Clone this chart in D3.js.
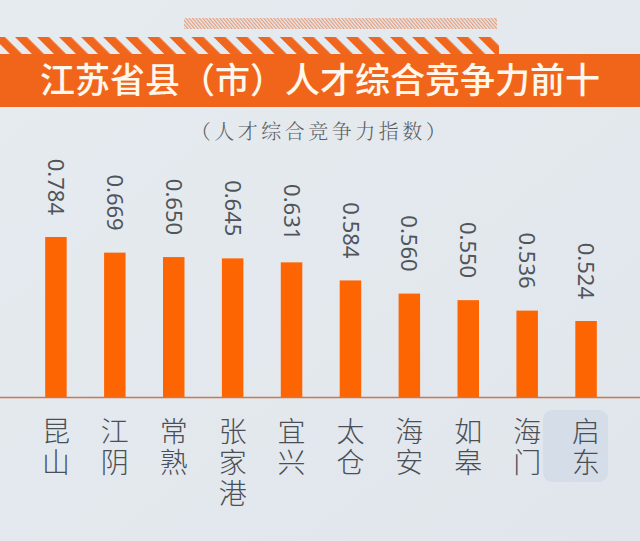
<!DOCTYPE html>
<html><head><meta charset="utf-8">
<script src="https://cdn.jsdelivr.net/npm/d3@7"></script>
<style>
html,body{margin:0;padding:0;background:#e4e9ee;}
svg{display:block;}
</style></head>
<body>
<script>
const titleText = "江苏省县（市）人才综合竞争力前十";
const subtitleText = "（人才综合竞争力指数）";
const categories = ["昆山","江阴","常熟","张家港","宜兴","太仓","海安","如皋","海门","启东"];
const values = [0.784,0.669,0.650,0.645,0.631,0.584,0.560,0.550,0.536,0.524];
const valueLabels = ["0.784","0.669","0.650","0.645","0.631","0.584","0.560","0.550","0.536","0.524"];

const W = 640, H = 541;
const baseY = 397;
const svg = d3.select("body").append("svg").attr("width", W).attr("height", H);

const defs = svg.append("defs");
const bg = defs.append("linearGradient").attr("id","bg").attr("x1",0).attr("y1",0).attr("x2",1).attr("y2",1);
bg.append("stop").attr("offset","0%").attr("stop-color","#e6ebf0");
bg.append("stop").attr("offset","100%").attr("stop-color","#e1e6ec");
svg.append("rect").attr("width",W).attr("height",H).attr("fill","url(#bg)");

// stripe patterns
const sp = defs.append("pattern").attr("id","stripes").attr("patternUnits","userSpaceOnUse")
  .attr("width",15.6).attr("height",15.6).attr("patternTransform","rotate(-45)");
sp.append("rect").attr("x",0).attr("y",0).attr("width",8.5).attr("height",15.6).attr("fill","#f0661c");
const hp = defs.append("pattern").attr("id","hatch").attr("patternUnits","userSpaceOnUse")
  .attr("width",2.6).attr("height",2.6).attr("patternTransform","rotate(-40)");
hp.append("rect").attr("x",0).attr("y",0).attr("width",1.2).attr("height",2.6).attr("fill","#e79b78");

svg.append("rect").attr("x",184).attr("y",18).attr("width",313).attr("height",11).attr("fill","url(#hatch)");
svg.append("rect").attr("x",0).attr("y",37).attr("width",499).attr("height",17).attr("fill","url(#stripes)");
svg.append("rect").attr("x",0).attr("y",54).attr("width",W).attr("height",53).attr("fill","#f1651b");

svg.append("text").attr("x",320).attr("y",93).attr("text-anchor","middle")
  .attr("font-family","'Noto Sans CJK SC', sans-serif").attr("font-weight",500)
  .attr("font-size",35).attr("fill","#fff7ec").text(titleText);

svg.append("text").attr("x",320).attr("y",139).attr("text-anchor","middle")
  .attr("font-family","'Noto Serif CJK SC', 'Noto Sans CJK SC', serif").attr("font-weight",300)
  .attr("font-size",20).attr("letter-spacing",3.5).attr("fill","#5a5e63").text(subtitleText);

// watermark badge behind last label
svg.append("rect").attr("x",543).attr("y",410).attr("width",65).attr("height",72).attr("rx",9)
  .attr("fill","#d5dee8");

const x = d3.scaleBand().domain(categories).range([1, 641]).paddingInner(0.635).paddingOuter(0.75);
const y = d3.scalePow().exponent(-5).domain([0.524, 0.784]).range([baseY - 76, baseY - 160]);

svg.append("g").selectAll("rect").data(values).join("rect")
  .attr("x", (d,i) => x(categories[i]))
  .attr("y", d => y(d))
  .attr("width", x.bandwidth())
  .attr("height", d => baseY - y(d))
  .attr("fill", "#fd6503");

svg.append("line").attr("x1",0).attr("x2",W).attr("y1",baseY+0.5).attr("y2",baseY+0.5)
  .attr("stroke","#c9794b").attr("stroke-width",1.5);

svg.append("g").selectAll("text").data(values).join("text")
  .attr("transform", (d,i) => `translate(${x(categories[i]) + x.bandwidth()/2},${y(d) - 22}) rotate(90)`)
  .attr("text-anchor","end").attr("dy","0.36em")
  .attr("font-family","'Noto Sans', 'Open Sans', sans-serif").attr("font-weight",400)
  .attr("font-size",22).attr("fill","#50555b")
  .text((d,i) => valueLabels[i]);

svg.append("g").selectAll("text").data(categories).join("text")
  .attr("x", d => x(d) + x.bandwidth()/2)
  .attr("y", 417)
  .attr("writing-mode","vertical-rl")
  .style("text-orientation","upright")
  .attr("letter-spacing",3)
  .attr("font-family","'Noto Sans CJK SC', sans-serif").attr("font-weight",300)
  .attr("font-size",28).attr("fill","#4a4f56")
  .text(d => d);
</script>
</body></html>
